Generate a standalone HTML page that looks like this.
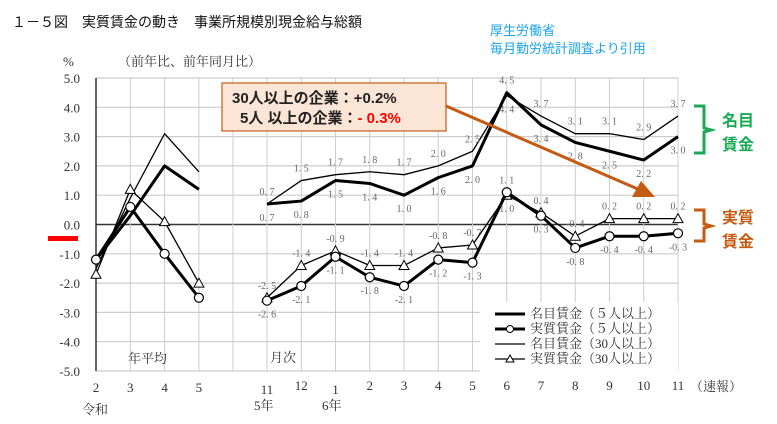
<!DOCTYPE html>
<html><head><meta charset="utf-8">
<style>
body{margin:0;background:#fff;width:777px;height:424px;overflow:hidden;font-family:"Liberation Serif","Noto Serif CJK SC",serif}
svg{display:block}
.lbl{font-size:10px;fill:#666;font-family:"Liberation Serif",serif}
.tick{font-size:13px;fill:#333;font-family:"Liberation Serif","Noto Serif CJK SC",serif}
</style></head><body>
<svg id="chart" width="777" height="424">
<text x="12" y="27" font-size="14" font-family="Liberation Sans, Noto Sans CJK JP, sans-serif" fill="#111">１－５図　実質賃金の動き　事業所規模別現金給与総額</text>
<text x="490" y="35" font-size="13" fill="#1aa3e8" font-family="Liberation Sans, Noto Sans CJK JP, sans-serif">厚生労働省</text>
<text x="490" y="53" font-size="13" fill="#1aa3e8" font-family="Liberation Sans, Noto Sans CJK JP, sans-serif">毎月勤労統計調査より引用</text>
<text x="63" y="66" class="tick">%</text>
<text x="118" y="66" class="tick">（前年比、前年同月比）</text>
<g id="grid"></g><g id="series"></g><g id="labels"></g>
<text x="128" y="363" class="tick">年平均</text>
<text x="270" y="362" class="tick">月次</text>
<text x="82" y="414" class="tick">令和</text>
<text x="254" y="410" class="tick">5年</text>
<text x="322" y="410" class="tick">6年</text>
<text x="690" y="391" class="tick">（速報）</text>
<g>
<rect x="480" y="302" width="198" height="72" fill="#fff"/>
<line x1="495" y1="314" x2="525" y2="314" stroke="#000" stroke-width="3"/>
<text x="530" y="318" class="tick" font-size="12">名目賃金（５人以上）</text>
<line x1="495" y1="329" x2="525" y2="329" stroke="#000" stroke-width="3"/>
<circle cx="510" cy="329" r="3.5" fill="#fff" stroke="#000"/>
<text x="530" y="333" class="tick" font-size="12">実質賃金（５人以上）</text>
<line x1="495" y1="344" x2="525" y2="344" stroke="#000" stroke-width="1.3"/>
<text x="530" y="348" class="tick" font-size="12">名目賃金（30人以上）</text>
<line x1="495" y1="359" x2="525" y2="359" stroke="#000" stroke-width="1.3"/>
<polygon points="510,355 514,362 506,362" fill="#fff" stroke="#000"/>
<text x="530" y="363" class="tick" font-size="12">実質賃金（30人以上）</text>
</g>
<rect x="48" y="236" width="30" height="5" fill="#f00"/>
<line x1="446" y1="106" x2="640" y2="190" stroke="#c55a11" stroke-width="3"/>
<polygon points="655,197 632,197 641,181" fill="#c55a11"/>
<rect x="222" y="83" width="224" height="48" fill="#fbe5d6" stroke="#c55a11" stroke-width="1.2"/>
<text x="232" y="103" font-size="15" font-weight="bold" fill="#222" font-family="Liberation Sans, Noto Sans CJK JP, sans-serif">30人以上の企業：+0.2%</text>
<text x="240" y="123" font-size="15" font-weight="bold" fill="#222" font-family="Liberation Sans, Noto Sans CJK JP, sans-serif">5人 以上の企業：<tspan fill="#f00">- 0.3%</tspan></text>
<path d="M694,106 H704 V128 L711,130 L704,132 V153 H694" fill="none" stroke="#1aaa55" stroke-width="3"/>
<text x="722" y="126" font-size="16" font-weight="bold" fill="#1aaa55" font-family="Liberation Sans, Noto Sans CJK JP, sans-serif">名目</text>
<text x="722" y="150" font-size="16" font-weight="bold" fill="#1aaa55" font-family="Liberation Sans, Noto Sans CJK JP, sans-serif">賃金</text>
<path d="M694,210 H704 V224 L711,226 L704,228 V241 H694" fill="none" stroke="#c55a11" stroke-width="3"/>
<text x="722" y="223" font-size="16" font-weight="bold" fill="#c55a11" font-family="Liberation Sans, Noto Sans CJK JP, sans-serif">実質</text>
<text x="722" y="247" font-size="16" font-weight="bold" fill="#c55a11" font-family="Liberation Sans, Noto Sans CJK JP, sans-serif">賃金</text>
</svg>
<script>
const annualCats=["2","3","4","5"];
const monthCats=["11","12","1","2","3","4","5","6","7","8","9","10","11"];
const yTicks=[5,4,3,2,1,0,-1,-2,-3,-4,-5];
const annNom5=[-1.2,0.3,2.0,1.2];
const annReal5=[-1.2,0.6,-1.0,-2.5];
const annNom30=[-1.5,0.9,3.1,1.8];
const annReal30=[-1.7,1.2,0.1,-2.0];
const monNom5=[0.7,0.8,1.5,1.4,1.0,1.6,2.0,4.5,3.4,2.8,2.5,2.2,3.0];
const monNom30=[0.7,1.5,1.7,1.8,1.7,2.0,2.5,4.4,3.7,3.1,3.1,2.9,3.7];
const monReal5=[-2.6,-2.1,-1.1,-1.8,-2.1,-1.2,-1.3,1.1,0.3,-0.8,-0.4,-0.4,-0.3];
const monReal30=[-2.5,-1.4,-0.9,-1.4,-1.4,-0.8,-0.7,1.0,0.4,-0.4,0.2,0.2,0.2];
const NS="http://www.w3.org/2000/svg";
const y=v=>224.5-v*29.3;
const xa=i=>96+i*34.3;
const xm=i=>267+i*34.25;
function mk(p,t,a){const e=document.createElementNS(NS,t);for(const k in a)e.setAttribute(k,a[k]);p.appendChild(e);return e;}
const g=document.getElementById('grid'),s=document.getElementById('series'),L=document.getElementById('labels');
yTicks.forEach(v=>{
 const l=mk(g,'line',{x1:96,x2:678,y1:y(v),y2:y(v),stroke:v===0?'#333':'#ccc','stroke-width':v===0?1.5:1.2});
 
 
 const t=mk(g,'text',{x:80,y:y(v)+5,'text-anchor':'end',class:'tick'});t.textContent=v.toFixed(1);
 
 
});
const vx=[...annualCats.map((c,i)=>xa(i)),233,...monthCats.map((c,i)=>xm(i))];
vx.forEach((x,i)=>{const l=mk(g,'line',{x1:x,x2:x,y1:y(5),y2:y(-5),stroke:i===0?'#333':'#ccc','stroke-width':i===0?1.5:1});
 
 });
annualCats.forEach((c,i)=>{const t=mk(g,'text',{x:xa(i),y:392,'text-anchor':'middle',class:'tick'});t.textContent=c;
 
 });
monthCats.forEach((c,i)=>{const t=mk(g,'text',{x:xm(i),y:[0,2].includes(i)?394:390,'text-anchor':'middle',class:'tick'});t.textContent=c;
 
 });
// lower: true if this series' labels normally sit below; other: partner series to compare
function series(vals,xf,w,marker,name,showLbl,lower,other){
 const pts=vals.map((v,i)=>xf(i)+','+y(v)).join(' ');
 const pl=mk(s,'polyline',{points:pts,fill:'none',stroke:'#000','stroke-width':w,'stroke-linejoin':'round'});
 
 
 vals.forEach((v,i)=>{const x=xf(i),yy=y(v);
  if(marker==='c'){const c=mk(s,'circle',{cx:x,cy:yy,r:4.5,fill:'#fff',stroke:'#000','stroke-width':1.2});
   
   }
  if(marker==='t'){const p=mk(s,'polygon',{points:`${x},${yy-5} ${x+5},${yy+4} ${x-5},${yy+4}`,fill:'#fff',stroke:'#000','stroke-width':1});
   
   }
  if(showLbl){
   let below=lower;
   if(lower&&v>other[i])below=false;
   if(!lower&&v<other[i])below=true;
   const off=below?17:-9;
   const t=mk(L,'text',{x:x,y:yy+off,'text-anchor':'middle',class:'lbl'});t.textContent=v.toFixed(1).replace('.','. ');
   
   }
 });
}
series(annNom30,xa,1.3,null,'annual-nominal-30',false);
series(annNom5,xa,3,null,'annual-nominal-5',false);
series(annReal30,xa,1.3,'t','annual-real-30',false);
series(annReal5,xa,3,'c','annual-real-5',false);
series(monNom30,xm,1.3,null,'monthly-nominal-30',true,false,monNom5);
series(monNom5,xm,3,null,'monthly-nominal-5',true,true,monNom30);
series(monReal30,xm,1.3,'t','monthly-real-30',true,false,monReal5);
series(monReal5,xm,3,'c','monthly-real-5',true,true,monReal30);
</script>
</body></html>
